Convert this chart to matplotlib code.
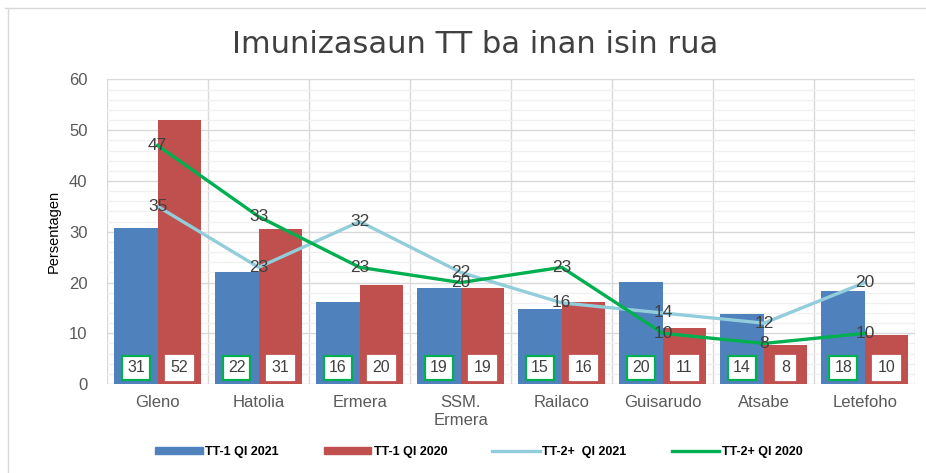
import matplotlib
matplotlib.use("Agg")
import matplotlib.pyplot as plt
from matplotlib.lines import Line2D
from matplotlib.patches import Patch
import numpy as np

# Données
municipios = ["Gleno", "Hatolia", "Ermera", "SSM.\nErmera", "Railaco",
              "Guisarudo", "Atsabe", "Letefoho"]
tt1_2021 = [30.7, 22.1, 16.1, 18.9, 14.7, 20.2, 13.8, 18.4]
tt1_2020 = [52.1, 30.6, 19.6, 18.9, 16.2, 11.0, 7.6, 9.6]
tt2_2021 = [35, 23, 32, 22, 16, 14, 12, 20]
tt2_2020 = [47, 33, 23, 20, 23, 10, 8, 10]
labels_tt1_2021 = [31, 22, 16, 19, 15, 20, 14, 18]
labels_tt1_2020 = [52, 31, 20, 19, 16, 11, 8, 10]
labels_tt2_2021 = [35, 23, 32, 22, 16, 14, 12, 20]
labels_tt2_2020 = [47, 33, 23, 20, 23, 10, 8, 10]

BLEU = "#4f81bd"
ROUGE = "#c0504d"
BLEU_CLAIR = "#92cddc"
VERT = "#00b050"
GRIS = "#595959"

plt.rcParams["font.family"] = ["Liberation Sans", "DejaVu Sans"]

fig = plt.figure(figsize=(9.26, 4.73), dpi=100)
ax = fig.add_axes([0.1156, 0.188, 0.873, 0.644])

x = np.arange(len(municipios))
largeur = 0.43

ax.bar(x - largeur / 2, tt1_2021, largeur, color=BLEU, zorder=2)
ax.bar(x + largeur / 2, tt1_2020, largeur, color=ROUGE, zorder=2)
ax.plot(x, tt2_2021, color=BLEU_CLAIR, lw=2.4, zorder=3)
ax.plot(x, tt2_2020, color=VERT, lw=2.4, zorder=3)

# étiquettes des barres, en bas dans des boîtes blanches
for i in range(len(x)):
    ax.text(x[i] - largeur / 2, 3.2, str(labels_tt1_2021[i]), ha="center",
            va="center", fontsize=11.5, color="#404040", zorder=5,
            bbox=dict(boxstyle="square,pad=0.3", fc="white", ec=VERT, lw=1.6))
    ax.text(x[i] + largeur / 2, 3.2, str(labels_tt1_2020[i]), ha="center",
            va="center", fontsize=11.5, color="#404040", zorder=5,
            bbox=dict(boxstyle="square,pad=0.3", fc="white", ec="white",
                      lw=1.6))

# étiquettes des courbes, centrées sur les points
for i in range(len(x)):
    ax.text(x[i], tt2_2021[i], str(labels_tt2_2021[i]), ha="center",
            va="center", fontsize=12.5, color="#404040", zorder=6)
    ax.text(x[i], tt2_2020[i], str(labels_tt2_2020[i]), ha="center",
            va="center", fontsize=12.5, color="#404040", zorder=6)

ax.set_xlim(-0.5, len(x) - 0.5)
ax.set_ylim(0, 60)
ax.set_yticks(range(0, 61, 10))
ax.set_yticks(range(0, 61, 2), minor=True)
ax.set_xticks(x)
ax.set_xticklabels(municipios, fontsize=12, color=GRIS)
ax.set_xticks(np.arange(-0.5, len(x)), minor=True)
ax.tick_params(axis="y", labelsize=12, labelcolor=GRIS, length=0,
               pad=14, which="both")
ax.tick_params(axis="x", length=0, pad=8, which="both")
ax.grid(axis="y", which="major", color="#d9d9d9", lw=1, zorder=0)
ax.grid(axis="y", which="minor", color="#f0f0f0", lw=1, zorder=0)
ax.grid(axis="x", which="minor", color="#d9d9d9", lw=1, zorder=0)
ax.set_axisbelow(True)
for s in ax.spines.values():
    s.set_visible(False)
ax.set_ylabel("Persentagen", fontsize=10.5, color="black", labelpad=6)

fig.text(0.513, 0.905, "Imunizasaun TT ba inan isin rua", ha="center",
         va="center", fontsize=22, color="#404040",
         family=["Liberation Sans Narrow", "DejaVu Sans"])

poignees = [
    Patch(color=BLEU),
    Patch(color=ROUGE),
    Line2D([], [], color=BLEU_CLAIR, lw=2.4),
    Line2D([], [], color=VERT, lw=2.4),
]
noms = ["TT-1 QI 2021", "TT-1 QI 2020", "TT-2+  QI 2021", "TT-2+ QI 2020"]
fig.legend(poignees, noms, loc="center", bbox_to_anchor=(0.517, 0.045),
           ncol=4, frameon=False, handlelength=3.8, handleheight=0.5,
           handletextpad=0.2, columnspacing=3.6,
           prop=dict(weight="bold", size=9))

# cadre gris de la zone du graphique
fig.add_artist(Line2D([0.009, 0.009], [0.0, 0.983], color="#d9d9d9", lw=1))
fig.add_artist(Line2D([0.005, 1.0], [0.983, 0.983], color="#d9d9d9", lw=1))

fig.savefig("out.png", dpi=100)
